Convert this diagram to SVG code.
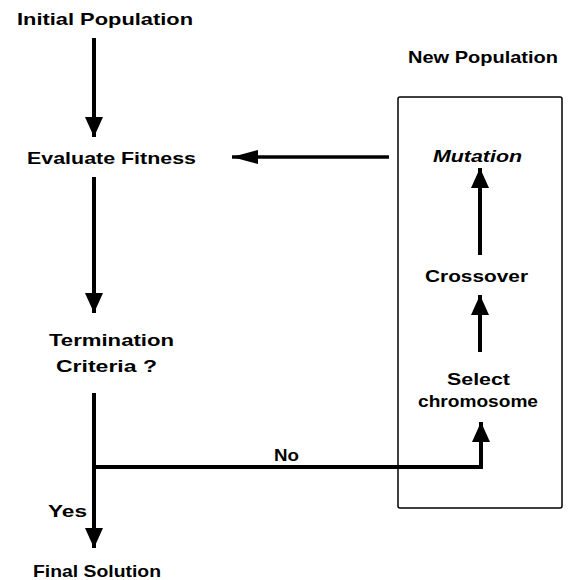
<svg xmlns="http://www.w3.org/2000/svg" width="569" height="580" viewBox="0 0 569 580">
  <style>
    .lbl { font-family: "Liberation Sans", Arial, sans-serif; font-weight: bold; font-size: 17px; fill: #000; }
    .it { font-style: italic; }
    .conn { fill: none; stroke: #000; stroke-width: 4; stroke-linejoin: miter; }
    .thin { stroke-width: 3.5; }
    .box { fill: none; stroke: #000; stroke-width: 1.5; }
  </style>
  <defs>
    <marker id="headV" markerUnits="userSpaceOnUse" markerWidth="20" markerHeight="18" refX="20" refY="9" orient="auto">
      <path d="M0,0 L20,9 L0,18 Z" fill="#000"/>
    </marker>
    <marker id="headH" markerUnits="userSpaceOnUse" markerWidth="26" markerHeight="14" refX="26" refY="7" orient="auto">
      <path d="M0,0 L26,7 L0,14 Z" fill="#000"/>
    </marker>
  </defs>

  <rect id="new-population-box" class="box" x="398" y="97" width="164" height="411" rx="2"/>

  <g id="connectors">
    <path class="conn" d="M94,38 L94,137" marker-end="url(#headV)"/>
    <path class="conn thin" d="M389,157 L232,157" marker-end="url(#headH)"/>
    <path class="conn" d="M94,177 L94,313" marker-end="url(#headV)"/>
    <path class="conn" d="M94,393 L94,548" marker-end="url(#headV)"/>
    <path class="conn" d="M94,467 L481,467 L481,422" marker-end="url(#headV)"/>
    <path class="conn" d="M480,255 L480,168" marker-end="url(#headV)"/>
    <path class="conn" d="M480,352 L480,295" marker-end="url(#headV)"/>
    <text class="lbl" x="274" y="461" textLength="25" lengthAdjust="spacingAndGlyphs">No</text>
    <text class="lbl" x="48" y="517" textLength="39" lengthAdjust="spacingAndGlyphs">Yes</text>
  </g>

  <g id="initial-population">
    <text class="lbl" x="17" y="25" textLength="176" lengthAdjust="spacingAndGlyphs">Initial Population</text>
  </g>
  <g id="evaluate-fitness">
    <text class="lbl" x="27" y="164" textLength="169" lengthAdjust="spacingAndGlyphs">Evaluate Fitness</text>
  </g>
  <g id="termination-criteria">
    <text class="lbl" x="49" y="346" textLength="125" lengthAdjust="spacingAndGlyphs">Termination</text>
    <text class="lbl" x="56" y="372" textLength="101" lengthAdjust="spacingAndGlyphs">Criteria ?</text>
  </g>
  <g id="final-solution">
    <text class="lbl" x="33" y="577" textLength="128" lengthAdjust="spacingAndGlyphs">Final Solution</text>
  </g>
  <g id="new-population">
    <text class="lbl" x="408" y="63" textLength="150" lengthAdjust="spacingAndGlyphs">New Population</text>
  </g>
  <g id="mutation">
    <text class="lbl it" x="433" y="162" textLength="89" lengthAdjust="spacingAndGlyphs">Mutation</text>
  </g>
  <g id="crossover">
    <text class="lbl" x="425" y="282" textLength="103" lengthAdjust="spacingAndGlyphs">Crossover</text>
  </g>
  <g id="select-chromosome">
    <text class="lbl" x="447" y="385" textLength="63" lengthAdjust="spacingAndGlyphs">Select</text>
    <text class="lbl" x="418" y="407" textLength="120" lengthAdjust="spacingAndGlyphs">chromosome</text>
  </g>
</svg>
